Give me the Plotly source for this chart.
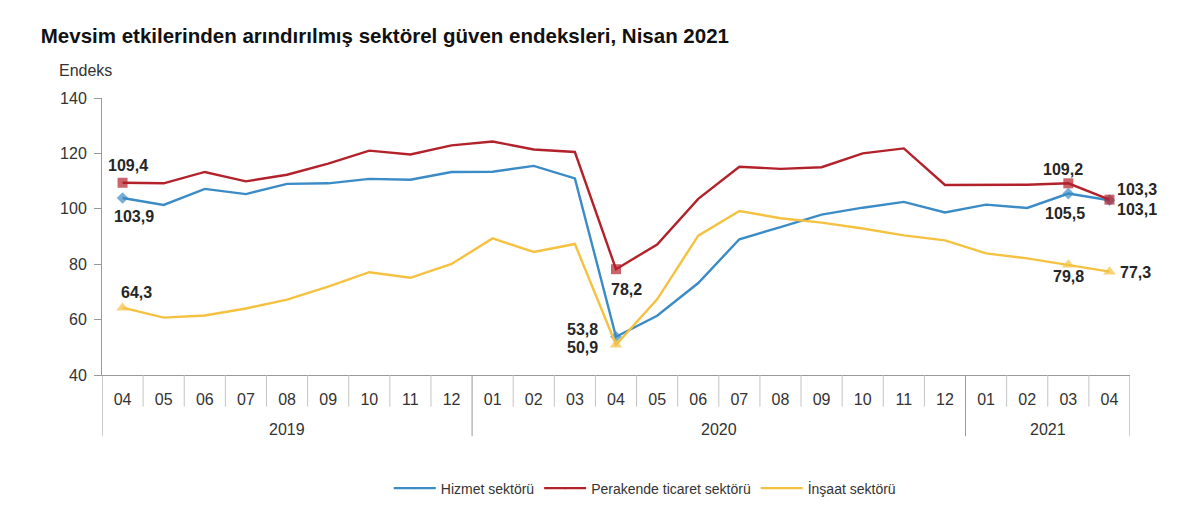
import plotly.graph_objects as go

years = ["2019"] * 9 + ["2020"] * 12 + ["2021"] * 4
months = ["04", "05", "06", "07", "08", "09", "10", "11", "12",
          "01", "02", "03", "04", "05", "06", "07", "08", "09", "10", "11", "12",
          "01", "02", "03", "04"]
year_labels = ["2019", "2020", "2021"]

hizmet = [103.9, 101.4, 107.2, 105.3, 109.0, 109.2, 110.8, 110.5, 113.3,
          113.4, 115.5, 111.0, 53.8, 61.4, 73.2, 89.0, 93.4, 97.9, 100.4, 102.5,
          98.7, 101.5, 100.3, 105.5, 103.1]
perakende = [109.4, 109.2, 113.3, 109.9, 112.3, 116.3, 121.0, 119.6, 122.9,
             124.3, 121.4, 120.5, 78.2, 87.1, 103.6, 115.2, 114.4, 115.0, 120.0, 121.8,
             108.6, 108.6, 108.7, 109.2, 103.3]
insaat = [64.3, 60.7, 61.5, 64.0, 67.2, 71.9, 77.1, 75.1, 80.1,
          89.3, 84.4, 87.3, 50.9, 67.3, 90.3, 99.2, 96.6, 95.0, 92.9, 90.4,
          88.6, 83.9, 82.1, 79.8, 77.3]

names = ["Hizmet sektörü", "Perakende ticaret sektörü", "İnşaat sektörü"]
colors = ["#3b8bc6", "#b3222b", "#f5c140"]
symbols = ["diamond", "square", "triangle-up"]
msizes = [9, 10, 11]
series = [hizmet, perakende, insaat]

# labelled point indices
label_idx = [0, 12, 23, 24]
# label placement per series and labelled point: (xanchor, xshift, yshift)
label_style = [
    [("center", 11, -18), ("center", -34, 7), ("center", -3, -20), ("left", 6, -9)],
    [("center", 5, 17), ("center", 10, -20), ("center", -5, 14), ("left", 6, 10)],
    [("center", 14, 15), ("center", -34, -3), ("center", 0, -12), ("left", 9, -1)],
]

xkeys = [f"{y}-{m}" for y, m in zip(years, months)]

fig = go.Figure()
annotations = []
for s, name, col, sym, ms, styles in zip(series, names, colors, symbols, msizes, label_style):
    sizes = [ms if i in label_idx else 0 for i in range(len(s))]
    fig.add_trace(go.Scatter(
        x=xkeys, y=s, name=name, mode="lines+markers",
        line=dict(color=col, width=2.4),
        marker=dict(symbol=sym, size=sizes, color=col, line=dict(width=0)),
        hoverinfo="skip",
    ))
    for i, (xa, xs, ys) in zip(label_idx, styles):
        annotations.append(dict(
            x=xkeys[i], y=s[i], xref="x", yref="y",
            text="<b>" + f"{s[i]:.1f}".replace(".", ",") + "</b>", showarrow=False,
            xanchor=xa, yanchor="middle", xshift=xs, yshift=ys,
            font=dict(family="Liberation Sans, Arial", size=16, color="#262626"),
        ))

# year group labels and dividers
shapes = []
n = len(xkeys)
starts = [years.index(y) for y in year_labels]
ends = [n - 1 - years[::-1].index(y) for y in year_labels]
for y, a, b in zip(year_labels, starts, ends):
    annotations.append(dict(
        x=(a + b) / 2, y=-0.195, xref="x", yref="paper", text=y, showarrow=False,
        xanchor="center", yanchor="middle",
        font=dict(family="Liberation Sans, Arial", size=16, color="#333333"),
    ))
    shapes.append(dict(type="line", xref="x", yref="paper", x0=a - 0.5, x1=a - 0.5,
                       y0=0, y1=-0.221, line=dict(color="#9a9a9a", width=1)))
shapes.append(dict(type="line", xref="x", yref="paper", x0=n - 0.5, x1=n - 0.5,
                   y0=0, y1=-0.221, line=dict(color="#9a9a9a", width=1)))
for i in range(n - 1):
    if (i + 1) not in starts:
        shapes.append(dict(type="line", xref="x", yref="paper", x0=i + 0.5, x1=i + 0.5,
                           y0=0, y1=-0.114, line=dict(color="#c4c4c4", width=1)))

annotations.append(dict(text="Endeks", xref="paper", yref="paper", x=-0.044, y=1.1,
                        xanchor="left", yanchor="middle", showarrow=False,
                        font=dict(family="Liberation Sans, Arial", size=16, color="#333333")))

fig.update_layout(
    width=1200, height=516,
    margin=dict(l=102, r=70, t=98, b=138),
    paper_bgcolor="white", plot_bgcolor="white",
    font=dict(family="Liberation Sans, Arial", size=16, color="#333333"),
    title=dict(text="<b>Mevsim etkilerinden arındırılmış sektörel güven endeksleri, Nisan 2021</b>",
               x=0.034, xanchor="left", y=0.930, yanchor="middle",
               font=dict(family="Liberation Sans, Arial", size=20.5, color="#111111")),
    showlegend=True,
    legend=dict(orientation="h", x=0.528, xanchor="center", y=-0.41, yanchor="middle",
                font=dict(size=14, color="#333333"), itemwidth=42),
    annotations=annotations,
    shapes=shapes,
)
fig.update_xaxes(
    type="category", range=[-0.5, n - 0.5], showline=True, linecolor="#9a9a9a", linewidth=1,
    tickvals=xkeys, ticktext=months, ticks="outside", ticklen=10,
    tickcolor="rgba(0,0,0,0)", showgrid=False, zeroline=False,
    tickfont=dict(size=16, color="#333333"),
)
fig.update_yaxes(
    range=[40, 140], dtick=20, showline=True, linecolor="#9a9a9a", linewidth=1,
    ticks="outside", ticklen=7, tickcolor="#9a9a9a", showgrid=False, zeroline=False,
    tickfont=dict(size=16, color="#333333"), ticklabelstandoff=4,
)

fig.write_html("out.html", config={"displayModeBar": False},
               post_script="document.body.style.margin='0px';")
